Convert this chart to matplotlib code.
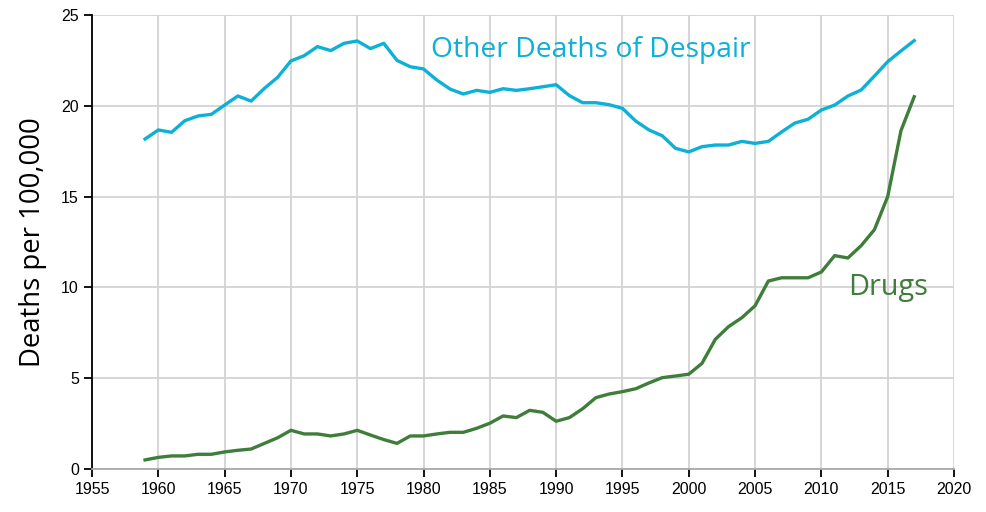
import matplotlib
matplotlib.use("Agg")
import matplotlib.pyplot as plt

years = list(range(1959, 2018))
other_despair = [18.17, 18.67, 18.54, 19.18, 19.44, 19.53, 20.04, 20.54, 20.26, 20.96,
                 21.57, 22.47, 22.76, 23.26, 23.04, 23.44, 23.57, 23.15, 23.44, 22.5,
                 22.15, 22.03, 21.42, 20.92, 20.65, 20.85, 20.74, 20.94, 20.85, 20.94,
                 21.05, 21.16, 20.56, 20.17, 20.17, 20.06, 19.86, 19.16, 18.67, 18.35,
                 17.66, 17.46, 17.75, 17.84, 17.84, 18.04, 17.93, 18.04, 18.56, 19.05,
                 19.26, 19.77, 20.04, 20.54, 20.87, 21.64, 22.43, 23.02, 23.59]
drugs = [0.50, 0.64, 0.72, 0.72, 0.81, 0.81, 0.94, 1.03, 1.10, 1.41,
         1.72, 2.13, 1.93, 1.93, 1.82, 1.93, 2.13, 1.87, 1.62, 1.41,
         1.82, 1.82, 1.93, 2.02, 2.02, 2.24, 2.52, 2.92, 2.83, 3.23,
         3.12, 2.63, 2.83, 3.32, 3.93, 4.13, 4.26, 4.42, 4.74, 5.03,
         5.12, 5.22, 5.82, 7.14, 7.84, 8.33, 8.99, 10.35, 10.53, 10.53,
         10.53, 10.85, 11.75, 11.62, 12.30, 13.18, 15.00, 18.63, 20.50]
x_ticks = list(range(1955, 2021, 5))
y_ticks = [0, 5, 10, 15, 20, 25]

blue = "#0db0d6"
green = "#3f7d3b"

fig = plt.figure(figsize=(9.86, 5.12), dpi=100)
ax = fig.add_axes([92/986, 43/512, (954-92)/986, (469-15)/512])

ax.plot(years, other_despair, color=blue, lw=2.4, solid_joinstyle="round", zorder=3)
ax.plot(years, drugs, color=green, lw=2.4, solid_joinstyle="round", zorder=3)

ax.set_xlim(1955, 2020)
ax.set_ylim(0, 25)
ax.set_xticks(x_ticks)
ax.set_yticks(y_ticks)
ax.grid(True, color="#d3d3d3", lw=1.3, zorder=0)
ax.set_axisbelow(True)

for s in ["top", "right"]:
    ax.spines[s].set_visible(False)
ax.spines["left"].set_color("black")
ax.spines["left"].set_linewidth(1.3)
ax.spines["bottom"].set_color("#aaaaaa")
ax.spines["bottom"].set_linewidth(1.3)

ax.tick_params(axis="both", length=6, width=1.3, color="black",
               labelsize=11.5, labelcolor="black")
for lab in ax.get_xticklabels() + ax.get_yticklabels():
    lab.set_fontfamily("Liberation Sans")

ax.set_ylabel("Deaths per 100,000", fontsize=19.8, family="Open Sans", labelpad=10)

ax.text(1992.6, 23.07, "Other Deaths of Despair", color=blue, fontsize=20.3,
        family="Open Sans", ha="center", va="center", zorder=4)
ax.text(2015.0, 9.97, "Drugs", color=green, fontsize=20.8,
        family="Open Sans", ha="center", va="center", zorder=4)

fig.savefig("out.png", dpi=100)
